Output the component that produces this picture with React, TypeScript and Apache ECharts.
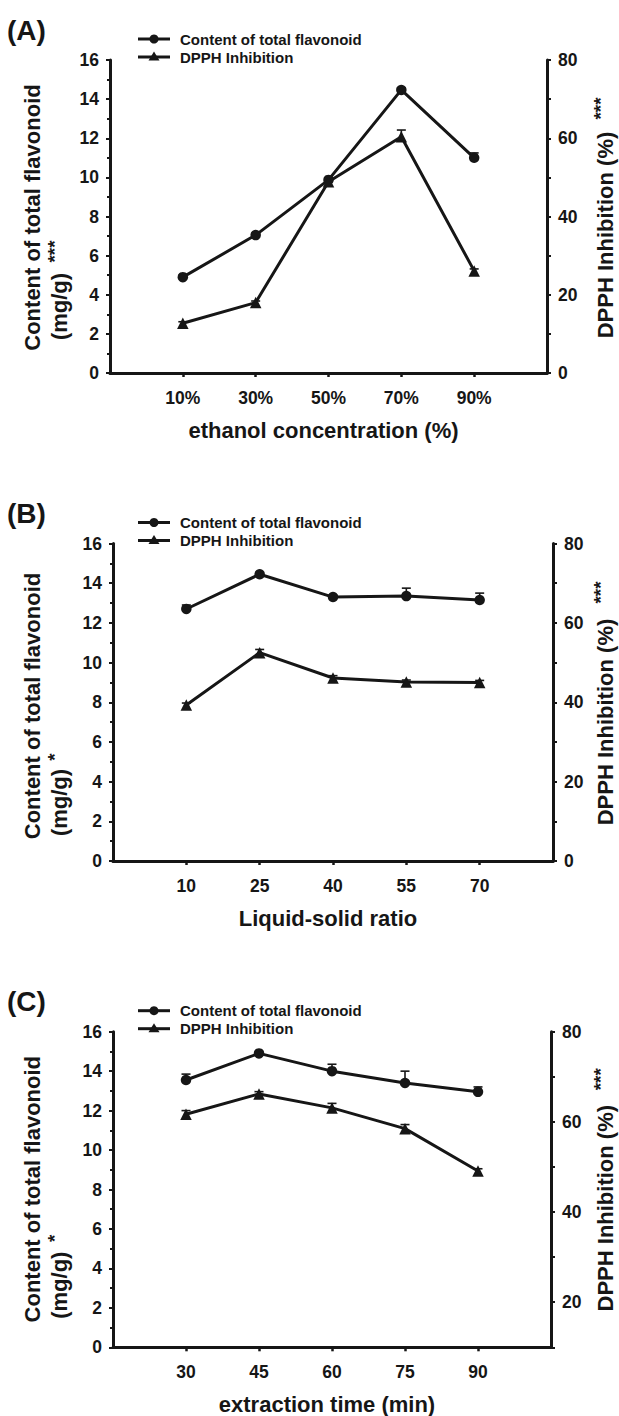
import React, { useEffect, useRef } from "react";
import * as echarts from "echarts";

// ---------- data ----------
const catsA = ["10%", "30%", "50%", "70%", "90%"];
const flavA = [4.9, 7.05, 9.87, 14.47, 11.0];
const flavErrA = [0.1, 0.1, 0.1, 0.1, 0.25];
const dpphA = [12.7, 18.0, 48.9, 60.4, 26.1];
const dpphErrA = [0.4, 0.4, 0.8, 1.7, 0.5];

const catsB = ["10", "25", "40", "55", "70"];
const flavB = [12.7, 14.45, 13.3, 13.35, 13.15];
const flavErrB = [0.2, 0.1, 0.1, 0.4, 0.35];
const dpphB = [39.3, 52.5, 46.1, 45.1, 45.0];
const dpphErrB = [0.5, 0.8, 0.6, 0.5, 0.5];

const catsC = ["30", "45", "60", "75", "90"];
const flavC = [13.55, 14.9, 14.0, 13.4, 12.95];
const flavErrC = [0.3, 0.1, 0.35, 0.6, 0.25];
const dpphC = [61.7, 66.2, 63.1, 58.5, 49.1];
const dpphErrC = [0.8, 0.5, 1.0, 0.9, 0.5];

const panelLabels = ["(A)", "(B)", "(C)"];
const xTitles = ["ethanol concentration (%)", "Liquid-solid ratio", "extraction time (min)"];
const leftTitle = "Content of total flavonoid";
const leftUnit = "(mg/g)";
const leftStars = ["***", "*", "*"];
const rightTitle = "DPPH Inhibition (%)";
const rightStars = ["***", "***", "***"];
const legendNames = ["Content of total flavonoid", "DPPH Inhibition"];
const rightMins = [0, 0, 10];

// ---------- layout ----------
const FONT = "'Liberation Sans', Arial, Helvetica, sans-serif";
const INK = "#161616";
const TICK_FS = 17.5;
const grids = [
  { left: 110, top: 60, width: 437, height: 313 },
  { left: 113, top: 543.5, width: 440, height: 317.5 },
  { left: 113, top: 1031.7, width: 438, height: 315.6 },
];

const panels = [
  { cats: catsA, flav: flavA, flavErr: flavErrA, dpph: dpphA, dpphErr: dpphErrA },
  { cats: catsB, flav: flavB, flavErr: flavErrB, dpph: dpphB, dpphErr: dpphErrB },
  { cats: catsC, flav: flavC, flavErr: flavErrC, dpph: dpphC, dpphErr: dpphErrC },
];

function errRender(params: any, api: any) {
  const x = api.value(0);
  const y = api.value(1);
  const e = api.value(2);
  const p0 = api.coord([x, y]);
  const p1 = api.coord([x, y + e]);
  return {
    type: "group",
    children: [
      { type: "line", shape: { x1: p0[0], y1: p0[1], x2: p1[0], y2: p1[1] }, style: { stroke: INK, lineWidth: 1.6 } },
      { type: "line", shape: { x1: p1[0] - 4.5, y1: p1[1], x2: p1[0] + 4.5, y2: p1[1] }, style: { stroke: INK, lineWidth: 1.6 } },
    ],
  };
}

export default function App() {
  const ref = useRef<HTMLDivElement>(null);
  useEffect(() => {
    if (!ref.current) return;
    const chart = echarts.init(ref.current, undefined, { renderer: "svg" });

    const xAxis: any[] = [];
    const yAxis: any[] = [];
    const series: any[] = [];
    const graphic: any[] = [];

    panels.forEach((p, i) => {
      const g = grids[i];
      xAxis.push({
        type: "value",
        gridIndex: i,
        min: 0,
        max: 6,
        interval: 1,
        splitLine: { show: false },
        axisLine: { show: true, lineStyle: { color: INK, width: 3 } },
        axisTick: { show: true, length: 4, lineStyle: { color: INK, width: 2.5 }, customValues: [1, 2, 3, 4, 5] },
        axisLabel: {
          customValues: [1, 2, 3, 4, 5],
          formatter: (v: number) => p.cats[Math.round(v) - 1] ?? "",
          margin: 16,
          fontFamily: FONT,
          fontWeight: "bold",
          fontSize: TICK_FS,
          color: INK,
        },
      });
      yAxis.push({
        type: "value",
        gridIndex: i,
        position: "left",
        min: 0,
        max: 16,
        interval: 2,
        splitLine: { show: false },
        axisLine: { show: true, lineStyle: { color: INK, width: 3 } },
        axisTick: { show: true, length: 4, lineStyle: { color: INK, width: 2 } },
        minorTick: { show: true, splitNumber: 2, length: 3, lineStyle: { color: INK, width: 2 } },
        axisLabel: { margin: 11, fontFamily: FONT, fontWeight: "bold", fontSize: TICK_FS, color: INK },
      });
      yAxis.push({
        type: "value",
        gridIndex: i,
        position: "right",
        min: rightMins[i],
        max: 80,
        interval: 10,
        splitLine: { show: false },
        axisLine: { show: true, lineStyle: { color: INK, width: 3 } },
        axisTick: { show: true, length: 4, lineStyle: { color: INK, width: 2 } },
        axisLabel: {
          margin: 11,
          formatter: (v: number) => (v % 20 === 0 ? String(v) : ""),
          fontFamily: FONT,
          fontWeight: "bold",
          fontSize: TICK_FS,
          color: INK,
        },
      });

      const flavData = p.flav.map((v, k) => [k + 1, v]);
      const dpphData = p.dpph.map((v, k) => [k + 1, v]);
      series.push({
        type: "custom",
        xAxisIndex: i,
        yAxisIndex: 2 * i,
        renderItem: errRender,
        data: p.flav.map((v, k) => [k + 1, v, p.flavErr[k]]),
        z: 1,
        clip: false,
        silent: true,
      });
      series.push({
        type: "custom",
        xAxisIndex: i,
        yAxisIndex: 2 * i + 1,
        renderItem: errRender,
        data: p.dpph.map((v, k) => [k + 1, v, p.dpphErr[k]]),
        z: 1,
        clip: false,
        silent: true,
      });
      series.push({
        name: legendNames[0],
        type: "line",
        xAxisIndex: i,
        yAxisIndex: 2 * i,
        data: flavData,
        symbol: "circle",
        symbolSize: 10.5,
        lineStyle: { color: INK, width: 3 },
        itemStyle: { color: INK },
        z: 3,
      });
      series.push({
        name: legendNames[1],
        type: "line",
        xAxisIndex: i,
        yAxisIndex: 2 * i + 1,
        data: dpphData,
        symbol: "triangle",
        symbolSize: 11.5,
        lineStyle: { color: INK, width: 3 },
        itemStyle: { color: INK },
        z: 3,
      });

      const top = g.top;
      const bottom = g.top + g.height;
      const midX = g.left + g.width / 2 - 10;

      // panel label
      graphic.push({
        type: "text",
        x: 7,
        y: top - 30,
        style: { text: panelLabels[i], font: `bold 28px ${FONT}`, fill: INK, align: "left", verticalAlign: "middle" },
      });

      // legend
      const ly = [top - 21, top - 3];
      ly.forEach((yy, k) => {
        graphic.push({ type: "line", shape: { x1: 138, y1: yy, x2: 170, y2: yy }, style: { stroke: INK, lineWidth: 3 } });
        if (k === 0) {
          graphic.push({ type: "circle", shape: { cx: 154, cy: yy, r: 4.5 }, style: { fill: INK } });
        } else {
          graphic.push({
            type: "polygon",
            shape: { points: [[154, yy - 5.5], [159.5, yy + 3.5], [148.5, yy + 3.5]] },
            style: { fill: INK },
          });
        }
        graphic.push({
          type: "text",
          x: 180,
          y: yy,
          style: { text: legendNames[k], font: `bold 15px ${FONT}`, fill: INK, align: "left", verticalAlign: "middle" },
        });
      });

      // x title
      graphic.push({
        type: "text",
        x: midX + 5,
        y: bottom + 57,
        style: { text: xTitles[i], font: `bold 22px ${FONT}`, fill: INK, align: "center", verticalAlign: "middle" },
      });

      // left titles
      const ly1 = top + (i === 0 ? 157.5 : i === 1 ? 162.5 : 157.5);
      graphic.push({
        type: "text",
        x: 32,
        y: ly1,
        rotation: Math.PI / 2,
        style: { text: leftTitle, font: `bold 22px ${FONT}`, fill: INK, align: "center", verticalAlign: "middle" },
      });
      const unitY = top + (i === 0 ? 246.5 : i === 1 ? 259 : 253.5);
      graphic.push({
        type: "text",
        x: 59,
        y: unitY,
        rotation: Math.PI / 2,
        style: { text: leftUnit, font: `bold 22px ${FONT}`, fill: INK, align: "center", verticalAlign: "middle" },
      });
      const starY = top + (i === 0 ? 191.5 : i === 1 ? 213.5 : 206.5);
      graphic.push({
        type: "text",
        x: 54,
        y: starY,
        rotation: Math.PI / 2,
        style: { text: leftStars[i], font: `bold 19px ${FONT}`, fill: INK, align: "center", verticalAlign: "middle" },
      });

      // right titles
      const ry = top + (i === 0 ? 175 : i === 1 ? 178.5 : 176.5);
      graphic.push({
        type: "text",
        x: 605,
        y: ry,
        rotation: Math.PI / 2,
        style: { text: rightTitle, font: `bold 22px ${FONT}`, fill: INK, align: "center", verticalAlign: "middle" },
      });
      const rsy = top + (i === 0 ? 48.5 : i === 1 ? 49 : 47.5);
      graphic.push({
        type: "text",
        x: 600,
        y: rsy,
        rotation: Math.PI / 2,
        style: { text: rightStars[i], font: `bold 19px ${FONT}`, fill: INK, align: "center", verticalAlign: "middle" },
      });
    });

    chart.setOption({
      animation: false,
      backgroundColor: "#ffffff",
      grid: grids.map((g) => ({ ...g, containLabel: false })),
      xAxis,
      yAxis,
      series,
      graphic,
    });
    return () => chart.dispose();
  }, []);

  return (
    <div
      ref={ref}
      style={{ position: "absolute", left: 0, top: 0, width: 619, height: 1416, background: "#fff" }}
    />
  );
}
